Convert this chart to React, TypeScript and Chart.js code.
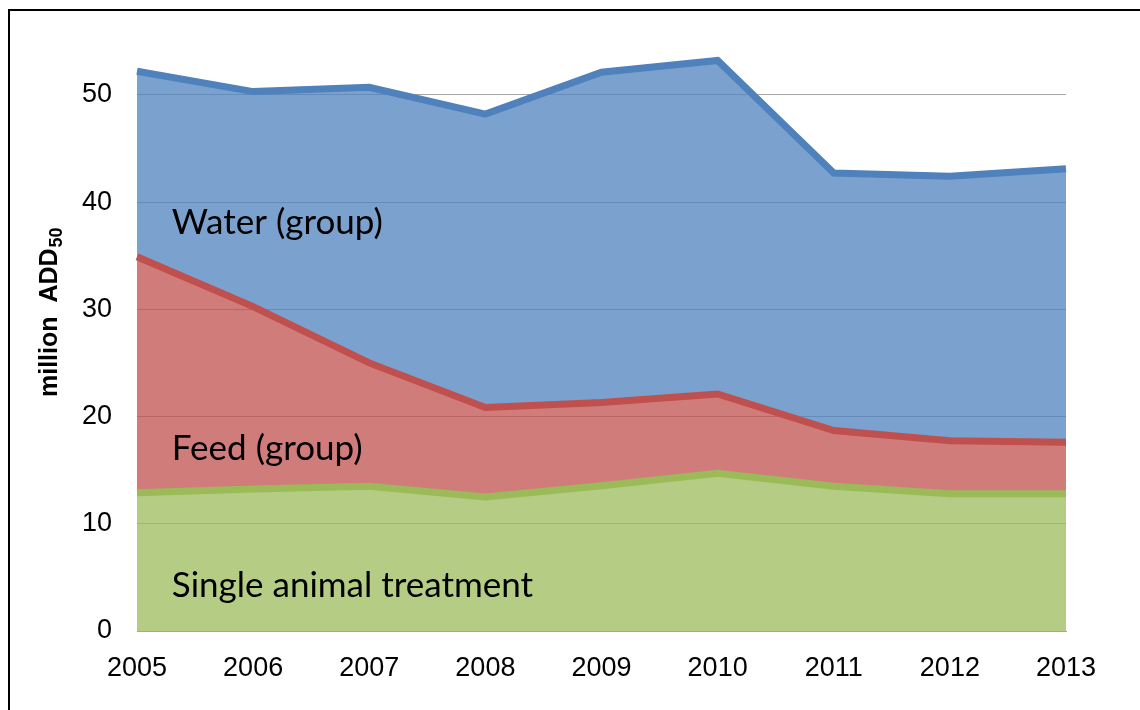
import React, { useEffect, useRef } from 'react';
import { Chart, registerables } from 'chart.js';

Chart.register(...registerables);

const years = ['2005', '2006', '2007', '2008', '2009', '2010', '2011', '2012', '2013'];
const singleAnimal = [12.9, 13.25, 13.5, 12.5, 13.55, 14.7, 13.5, 12.8, 12.8];
const feedGroup = [22.0, 17.0, 11.5, 8.35, 7.75, 7.4, 5.2, 4.95, 4.8];
const waterGroup = [17.3, 20.05, 25.7, 27.35, 30.8, 31.1, 24.0, 24.65, 25.5];
const yTicks = [0, 10, 20, 30, 40, 50];
const seriesNames = ['Single animal treatment', 'Feed (group)', 'Water (group)'];
const yTitleMain = 'million  ADD';
const yTitleSub = '50';

const lineColors = ['#9BBB59', '#C0504D', '#4F81BD'];
const fillColors = ['rgba(155,187,89,0.75)', 'rgba(192,80,77,0.75)', 'rgba(79,129,189,0.75)'];

// label anchors (category offset, value) for the in-area series names
const labelAnchors = [
  { x: 0.3, y: 3.2 },
  { x: 0.3, y: 15.9 },
  { x: 0.3, y: 37.0 },
];

const areaLabels = {
  id: 'areaLabels',
  afterDatasetsDraw(chart: any) {
    const { ctx, scales } = chart;
    ctx.save();
    ctx.fillStyle = '#000';
    ctx.font = '35px Lato';
    ctx.textAlign = 'left';
    ctx.textBaseline = 'alphabetic';
    seriesNames.forEach((name, i) => {
      const a = labelAnchors[i];
      ctx.fillText(name, scales.x.getPixelForValue(a.x), scales.y.getPixelForValue(a.y));
    });
    ctx.restore();
  },
};

const yTitle = {
  id: 'yTitle',
  afterDraw(chart: any) {
    const { ctx, chartArea } = chart;
    ctx.save();
    ctx.translate(57, chartArea.bottom - 234);
    ctx.rotate(-Math.PI / 2);
    ctx.fillStyle = '#000';
    ctx.textAlign = 'left';
    ctx.textBaseline = 'alphabetic';
    ctx.font = 'bold 25px "Liberation Sans", Arial, sans-serif';
    ctx.fillText(yTitleMain, 0, 0);
    const w = ctx.measureText(yTitleMain).width;
    ctx.font = 'bold 18px "Liberation Sans", Arial, sans-serif';
    ctx.fillText(yTitleSub, w + 1, 5);
    ctx.restore();
  },
};

export default function App() {
  const ref = useRef<HTMLCanvasElement>(null);
  useEffect(() => {
    const series = [singleAnimal, feedGroup, waterGroup];
    const chart = new Chart(ref.current as HTMLCanvasElement, {
      type: 'line',
      data: {
        labels: years,
        datasets: series.map((d, i) => ({
          label: seriesNames[i],
          data: d,
          borderColor: lineColors[i],
          backgroundColor: fillColors[i],
          borderWidth: 7,
          pointRadius: 0,
          tension: 0,
          fill: i === 0 ? 'origin' : '-1',
        })),
      },
      options: {
        responsive: false,
        animation: false,
        layout: { padding: { top: 39, right: 74, left: 0, bottom: 0 } },
        plugins: { legend: { display: false }, tooltip: { enabled: false } },
        scales: {
          x: {
            offset: false,
            grid: { display: false },
            border: { display: true, color: '#A6A6A6', width: 1 },
            ticks: {
              color: '#000',
              font: { family: '"Liberation Sans", Arial, sans-serif', size: 27 },
              padding: 13,
              maxRotation: 0,
              autoSkip: false,
            },
            afterFit(scale: any) {
              scale.height = 79;
            },
          },
          y: {
            stacked: true,
            min: 0,
            max: 55,
            grid: { color: '#A6A6A6', lineWidth: 1, drawTicks: false },
            border: { display: false },
            ticks: {
              color: '#000',
              font: { family: '"Liberation Sans", Arial, sans-serif', size: 27 },
              padding: 25,
            },
            afterBuildTicks(scale: any) {
              scale.ticks = yTicks.map((v) => ({ value: v }));
            },
            afterFit(scale: any) {
              scale.width = 137;
            },
          },
        },
      },
      plugins: [areaLabels, yTitle],
    });
    return () => chart.destroy();
  }, []);
  return (
    <div style={{ position: 'fixed', left: 0, top: 0, width: 1140, height: 710, overflow: 'hidden', background: '#fff' }}>
      <div
        style={{
          position: 'absolute',
          left: 8,
          top: 9,
          width: 1300,
          height: 900,
          border: '2px solid #000',
        }}
      />
      <canvas ref={ref} width={1140} height={710} style={{ position: 'absolute', left: 0, top: 0, width: 1140, height: 710 }} />
    </div>
  );
}
